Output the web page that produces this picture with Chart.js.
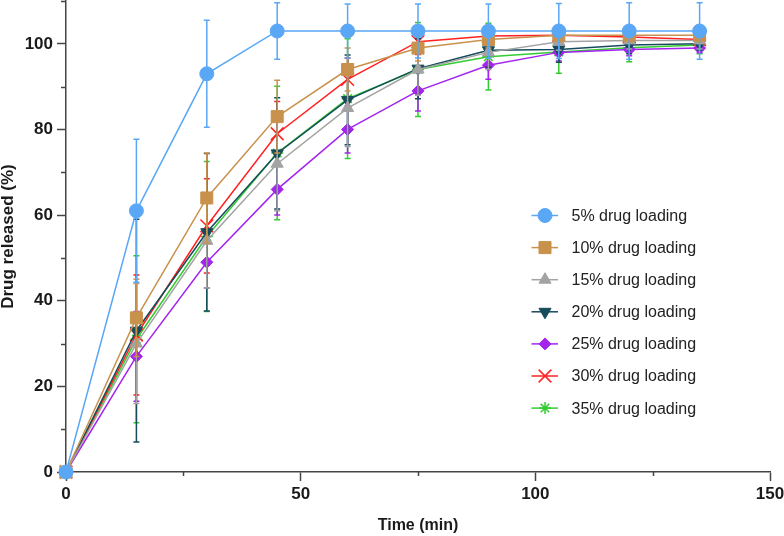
<!DOCTYPE html>
<html>
<head>
<meta charset="utf-8">
<script src="https://cdn.jsdelivr.net/npm/chart.js@4.4.1/dist/chart.umd.min.js"></script>
<style>
  html, body { margin: 0; padding: 0; background: #fff; }
  canvas { display: block; }
</style>
</head>
<body>
<canvas id="myChart" width="784" height="536"></canvas>
<script>
// time points (min)
const times = [0, 15, 30, 45, 60, 75, 90, 105, 120, 135]

// mean release (%) per loading
const load5  = [0, 61, 93, 103, 103, 103, 103, 103, 103, 103]
const load10 = [0, 36, 64, 83, 94, 99, 101, 102, 102, 102]
const load15 = [0, 30, 54, 72, 85, 94, 98, 100.5, 100.8, 100.8]
const load20 = [0, 33, 56, 74.4, 86.9, 94.2, 98.5, 98.7, 99.7, 100]
const load25 = [0, 27, 49, 66, 80, 89, 95, 98, 98.7, 99]
const load30 = [0, 32, 57.5, 79, 91.7, 100.5, 101.8, 102, 101.6, 101]
const load35 = [0, 31, 55, 74.5, 87.2, 94, 97, 98.1, 99.1, 99.7]

// standard deviations
const sd5  = [0, 16.7, 12.5, 6.6, 6.3, 6.3, 6.3, 6.4, 6.6, 6.6]
const sd10 = [0, 9, 10.5, 8.5, 5, 3, 2, 1.5, 1.5, 1.5]
const sd15 = [0, 14, 11, 11, 9, 6, 4, 2, 2, 2]
const sd20 = [0, 26, 18.4, 13, 10.5, 7, 4, 3, 2, 1.5]
const sd25 = [0, 10.5, 6, 6, 5.5, 4.7, 3.3, 2, 1.5, 1]
const sd30 = [0, 14, 11, 7.5, 5, 3, 2, 1.5, 1.5, 1]
const sd35 = [0, 19.5, 17.5, 15.6, 14, 11, 7.8, 5, 3.3, 2]

const seriesNames = ['5% drug loading', '10% drug loading', '15% drug loading', '20% drug loading',
  '25% drug loading', '30% drug loading', '35% drug loading']

// axis ticks
const xTicks = [0, 50, 100, 150]
const xMinor = [25, 75, 125]
const yTicks = [0, 20, 40, 60, 80, 100]
const yMinor = [10, 30, 50, 70, 90, 110]

;(() => {
  'use strict'

  const FONT = '"Liberation Sans", Arial, sans-serif'
  const AXIS = '#454545'
  const TEXT = '#1a1a1a'

  const styles = [
    { color: '#5aa7f6', point: 'circle', r: 7, rot: 0, bw: 1 },
    { color: '#c8924c', point: 'rect', r: 8.5, rot: 0, bw: 1 },
    { color: '#a3a3a3', point: 'triangle', r: 7, rot: 0, bw: 1 },
    { color: '#154b5b', point: 'triangle', r: 7, rot: 180, bw: 1 },
    { color: '#a424ee', point: 'rectRot', r: 6, rot: 0, bw: 1 },
    { color: '#ff2222', point: 'crossRot', r: 9, rot: 0, bw: 1.5 },
    { color: '#33cc33', point: 'star', r: 6, rot: 0, bw: 1.5 }
  ]
  const means = [load5, load10, load15, load20, load25, load30, load35]
  const sds = [sd5, sd10, sd15, sd20, sd25, sd30, sd35]

  const datasets = means.map((vals, i) => ({
    label: seriesNames[i],
    data: vals.map((v, j) => ({ x: times[j], y: v })),
    sd: sds[i],
    borderColor: styles[i].color,
    backgroundColor: styles[i].color,
    borderWidth: 1.5,
    pointStyle: styles[i].point,
    pointRadius: styles[i].r,
    pointRotation: styles[i].rot,
    pointBorderWidth: styles[i].bw,
    pointBackgroundColor: styles[i].color,
    pointBorderColor: styles[i].color,
    pointHoverRadius: styles[i].r,
    tension: 0,
    clip: false
  }))

  // error bars, drawn under each series
  const errorBars = {
    id: 'errorBars',
    beforeDatasetDraw(chart, args) {
      const ds = chart.data.datasets[args.index]
      const { ctx, scales: { x, y } } = chart
      ctx.save()
      ctx.strokeStyle = ds.borderColor
      ctx.lineWidth = 1.5
      ds.data.forEach((p, j) => {
        const e = ds.sd[j]
        if (!e) return
        const px = x.getPixelForValue(p.x)
        const top = y.getPixelForValue(p.y + e)
        const bot = y.getPixelForValue(p.y - e)
        ctx.beginPath()
        ctx.moveTo(px, top); ctx.lineTo(px, bot)
        ctx.moveTo(px - 3, top); ctx.lineTo(px + 3, top)
        ctx.moveTo(px - 3, bot); ctx.lineTo(px + 3, bot)
        ctx.stroke()
      })
      ctx.restore()
    }
  }

  // short minor ticks
  const minorTicks = {
    id: 'minorTicks',
    afterDraw(chart) {
      const { ctx, scales: { x, y }, chartArea } = chart
      ctx.save()
      ctx.strokeStyle = AXIS
      ctx.lineWidth = 1.5
      ctx.beginPath()
      yMinor.forEach(v => {
        const py = Math.round(y.getPixelForValue(v)) + 0.5
        ctx.moveTo(chartArea.left - 5, py); ctx.lineTo(chartArea.left, py)
      })
      xMinor.forEach(v => {
        const px = Math.round(x.getPixelForValue(v)) + 0.5
        ctx.moveTo(px, chartArea.bottom); ctx.lineTo(px, chartArea.bottom + 4)
      })
      ctx.stroke()
      ctx.restore()
    }
  }

  // legend with line + marker
  const lineLegend = {
    id: 'lineLegend',
    afterDraw(chart) {
      const ctx = chart.ctx
      const x0 = 545, y0 = 215.5, step = 32.1
      ctx.save()
      chart.data.datasets.forEach((ds, i) => {
        const yy = y0 + i * step
        ctx.strokeStyle = ds.borderColor
        ctx.fillStyle = ds.borderColor
        ctx.lineWidth = 1.5
        ctx.beginPath()
        ctx.moveTo(x0 - 13.5, yy); ctx.lineTo(x0 + 13, yy)
        ctx.stroke()
        ctx.lineWidth = ds.pointBorderWidth
        Chart.helpers.drawPoint(ctx, {
          pointStyle: ds.pointStyle,
          radius: ds.pointRadius,
          rotation: ds.pointRotation,
          borderWidth: ds.pointBorderWidth
        }, x0, yy)
        ctx.fillStyle = '#222'
        ctx.font = '16px ' + FONT
        ctx.textAlign = 'left'
        ctx.textBaseline = 'middle'
        ctx.fillText(ds.label, 571.5, yy + 1)
      })
      ctx.restore()
    }
  }

  const ctx = document.getElementById('myChart')
  // eslint-disable-next-line no-unused-vars
  const myChart = new Chart(ctx, {
    type: 'line',
    data: { datasets },
    plugins: [errorBars, minorTicks, lineLegend],
    options: {
      responsive: false,
      animation: false,
      devicePixelRatio: 1,
      layout: { autoPadding: false, padding: { top: 1, right: 14, left: 0, bottom: 0 } },
      plugins: {
        legend: { display: false },
        tooltip: { enabled: false }
      },
      scales: {
        x: {
          type: 'linear',
          min: 0,
          max: 150,
          afterBuildTicks: s => { s.ticks = xTicks.map(v => ({ value: v })) },
          afterFit: s => { s.height = 64; s.paddingLeft = 0; s.paddingRight = 0 },
          grid: { drawOnChartArea: false, tickLength: 9, tickColor: AXIS, tickWidth: 1.5 },
          border: { color: AXIS, width: 1.5 },
          ticks: { color: TEXT, padding: 3, font: { family: FONT, size: 17, weight: 'bold' } },
          title: {
            display: true,
            text: 'Time (min)',
            color: TEXT,
            padding: { top: 0, bottom: 2 },
            font: { family: FONT, size: 16, weight: 'bold', lineHeight: 1 }
          }
        },
        y: {
          min: 0,
          max: 110,
          afterBuildTicks: s => { s.ticks = yTicks.map(v => ({ value: v })) },
          afterFit: s => { s.width = 66; s.paddingTop = 0; s.paddingBottom = 0 },
          grid: { drawOnChartArea: false, tickLength: 9, tickColor: AXIS, tickWidth: 1.5 },
          border: { color: AXIS, width: 1.5 },
          ticks: { color: TEXT, padding: 4, font: { family: FONT, size: 17, weight: 'bold' } },
          title: {
            display: true,
            text: 'Drug released (%)',
            color: TEXT,
            padding: { top: 0, bottom: 0 },
            font: { family: FONT, size: 17, weight: 'bold', lineHeight: 1 }
          }
        }
      }
    }
  })
})()
</script>
</body>
</html>
